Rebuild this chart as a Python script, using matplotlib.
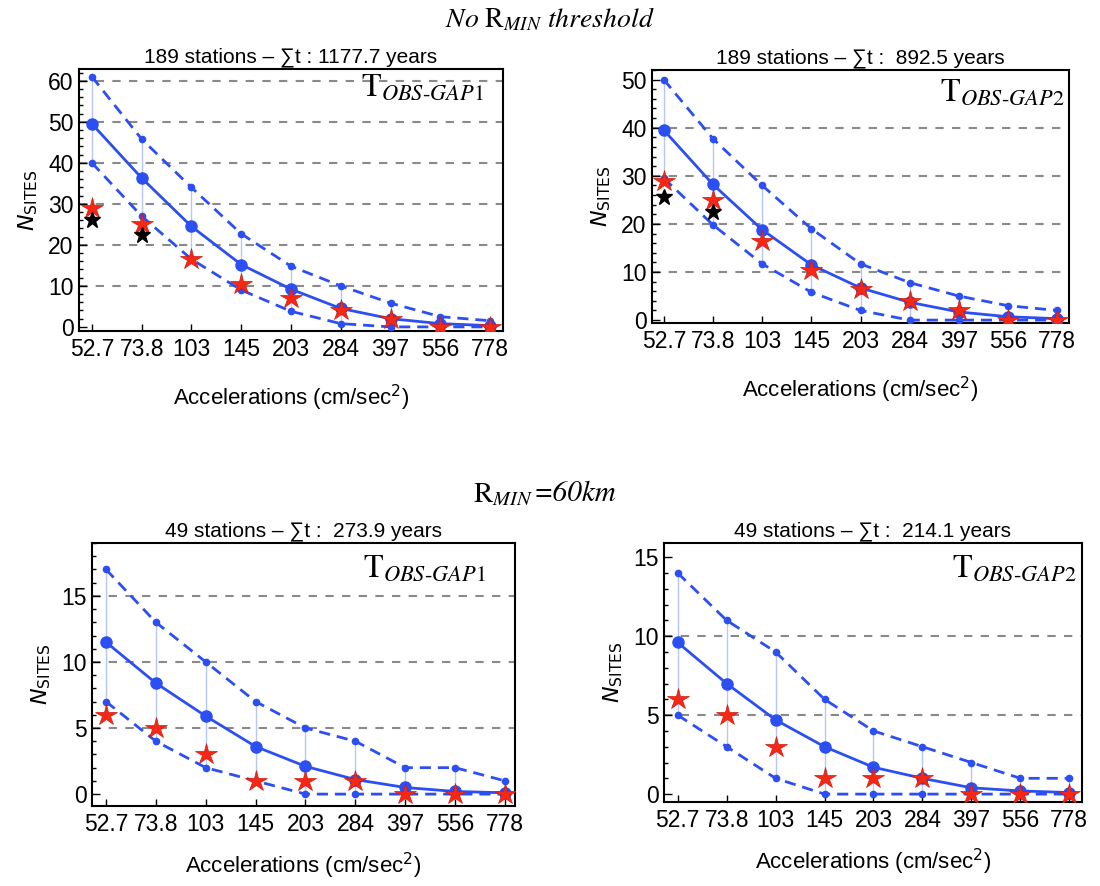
import numpy as np
import matplotlib
matplotlib.use("Agg")
import matplotlib.pyplot as plt
from matplotlib.ticker import MultipleLocator

plt.rcParams["font.family"] = ["Liberation Sans", "DejaVu Sans"]

acc_labels = ["52.7", "73.8", "103", "145", "203", "284", "397", "556", "778"]

titles = ["189 stations – ∑t : 1177.7 years",
          "189 stations – ∑t :  892.5 years",
          "49 stations – ∑t :  273.9 years",
          "49 stations – ∑t :  214.1 years"]
gap_labels = ["GAP1", "GAP2", "GAP1", "GAP2"]

mean_1 = [49.5, 36.3, 24.5, 15.2, 9.2, 4.5, 2.0, 0.8, 0.3]
upper_1 = [61, 45.8, 34, 22.7, 14.8, 10, 5.8, 2.5, 1.5]
lower_1 = [40, 27, 16.5, 9, 3.8, 0.8, 0, 0, 0]
obs_1 = [29, 25, 16.5, 10.5, 7, 4, 2, 0, 0]
black_1 = [26, 22.5]

mean_2 = [39.5, 28.2, 18.8, 11.5, 6.7, 3.7, 1.7, 0.7, 0.3]
upper_2 = [50, 37.7, 28, 19, 11.7, 7.8, 5, 3, 2]
lower_2 = [29.5, 19.8, 11.7, 5.8, 2, 0, 0, 0, 0]
obs_2 = [29, 25, 16.5, 10.5, 6.5, 4, 2, 0, 0]
black_2 = [25.5, 22.5]

mean_3 = [11.5, 8.4, 5.9, 3.6, 2.1, 1.1, 0.5, 0.2, 0.1]
upper_3 = [17, 13, 10, 7, 5, 4, 2, 2, 1]
lower_3 = [7, 4, 2, 1, 0, 0, 0, 0, 0]
obs_3 = [6, 5, 3, 1, 1, 1, 0, 0, 0]

mean_4 = [9.6, 7.0, 4.7, 3.0, 1.7, 1.0, 0.4, 0.2, 0.1]
upper_4 = [14, 11, 9, 6, 4, 3, 2, 1, 1]
lower_4 = [5, 3, 1, 0, 0, 0, 0, 0, 0]
obs_4 = [6, 5, 3, 1, 1, 1, 0, 0, 0]

blue = "#2b4ff2"
light = "#b9c5ff"
x = np.arange(len(acc_labels))

fig = plt.figure(figsize=(11, 8.86), dpi=100)
W, H = 1100, 886

# (left, right, top, bottom) in pixels, xlim, ylim, major, minor, grid lines, T pos, xlabel pad
panels = [
    ((79, 503, 69, 331), (-0.26, 8.26), (-1, 62.9), 10, 2, [10, 20, 30, 40, 50, 60], (0.665, 0.985), 16),
    ((652, 1069, 70, 323), (-0.24, 8.24), (-0.6, 52), 10, 2, [10, 20, 30, 40], (0.69, 0.97), 16),
    ((92, 515, 543, 806), (-0.28, 8.2), (-0.9, 19), 5, 1, [5, 10, 15], (0.64, 0.96), 11),
    ((664, 1082, 543, 802), (-0.28, 8.26), (-0.5, 15.9), 5, 1, [5, 10], (0.69, 0.96), 11),
]
data = [(mean_1, upper_1, lower_1, obs_1, black_1),
        (mean_2, upper_2, lower_2, obs_2, black_2),
        (mean_3, upper_3, lower_3, obs_3, None),
        (mean_4, upper_4, lower_4, obs_4, None)]

for i, (box, xl, yl, major, minor, grid, tpos, xpad) in enumerate(panels):
    l, r, t, b = box
    ax = fig.add_axes([l / W, 1 - b / H, (r - l) / W, (b - t) / H])
    mean, upper, lower, obs, black = data[i]

    for g in grid:
        ax.axhline(g, color="#8a8a8a", lw=1.5, ls=(0, (4, 4)), zorder=1)

    ax.vlines(x, lower, upper, color=light, lw=1.0, zorder=2)
    ax.plot(x, upper, ls="--", color=blue, lw=2, marker="o", ms=4.5, zorder=3, dashes=(4, 2.5))
    ax.plot(x, lower, ls="--", color=blue, lw=2, marker="o", ms=4.5, zorder=3, dashes=(4, 2.5))
    ax.plot(x, mean, ls="-", color=blue, lw=2, marker="o", ms=8, zorder=3)
    ax.plot(x, obs, ls="none", marker="*", ms=16, color="#f52815", mec="#d01a10", mew=0.5, zorder=4)
    if black is not None:
        ax.plot(x[:len(black)], black, ls="none", marker="*", ms=12, color="black", zorder=5)

    ax.set_xlim(*xl)
    ax.set_ylim(*yl)
    ax.set_xticks(x)
    ax.set_xticklabels(acc_labels)
    ax.yaxis.set_major_locator(MultipleLocator(major))
    ax.yaxis.set_minor_locator(MultipleLocator(minor))
    ax.tick_params(axis="both", which="both", direction="in", top=False, right=False,
                   labelsize=16.5, width=1)
    ax.tick_params(axis="y", which="major", length=6, pad=4)
    ax.tick_params(axis="y", which="minor", length=3)
    ax.tick_params(axis="x", which="major", length=5, pad=5)
    for s in ax.spines.values():
        s.set_linewidth(1.5)

    ax.set_title(titles[i], fontsize=15, pad=5)
    ax.set_xlabel("Accelerations (cm/sec$^2$)", fontsize=16, labelpad=xpad)
    ax.set_ylabel("$N_{\\mathrm{SITES}}$", fontsize=16, labelpad=6, math_fontfamily="dejavusans")
    ax.text(tpos[0], tpos[1], "$\\mathrm{T}_{\\mathit{OBS\\text{-}" + gap_labels[i] + "}}$",
            transform=ax.transAxes, ha="left", va="top", fontsize=23,
            math_fontfamily="stix", zorder=6)

fig.text(0.5, 1 - 20 / H, "$\\mathit{No}\\ \\mathrm{R}_{\\mathit{MIN}}\\ \\mathit{threshold}$",
         ha="center", va="center", fontsize=20, math_fontfamily="stix")
fig.text(0.485, 1 - 494 / H, "$\\mathrm{R}_{\\mathit{MIN}}$",
         ha="right", va="center", fontsize=21, math_fontfamily="stix")
fig.text(0.485, 1 - 494 / H, "=60km", family="STIXGeneral", style="italic",
         ha="left", va="center", fontsize=21)

fig.savefig("out.png", dpi=100)
